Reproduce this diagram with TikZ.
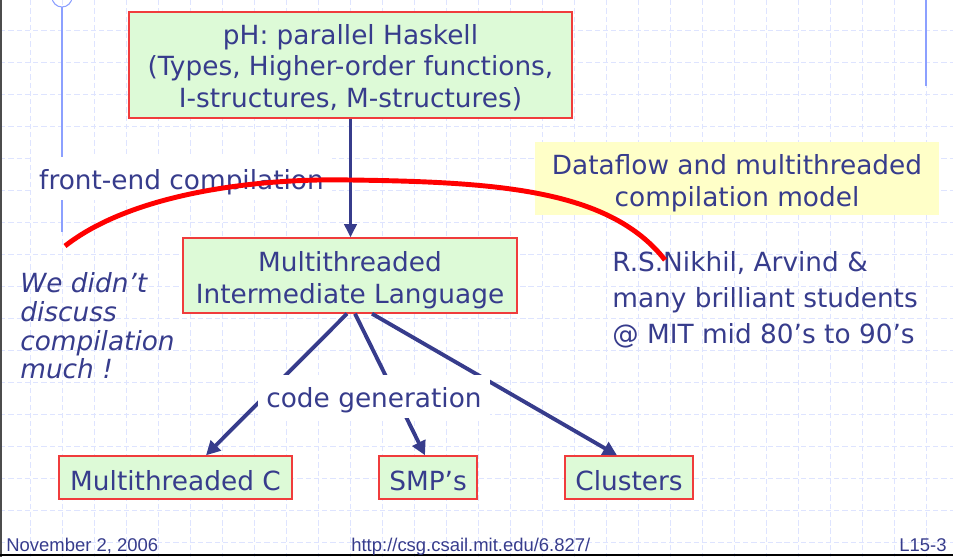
\documentclass[tikz,border=0pt]{standalone}
\usepackage{fontspec}
\setmainfont{DejaVu Sans}
\newfontfamily\footfont{Liberation Sans}
\usetikzlibrary{arrows.meta, calc}
\definecolor{ink}{RGB}{55,60,140}
\definecolor{boxfill}{RGB}{221,250,215}
\definecolor{boxline}{RGB}{240,60,60}
\definecolor{notefill}{RGB}{255,255,200}
\definecolor{gridc}{RGB}{222,228,255}
\definecolor{railc}{RGB}{140,160,255}
\newcommand{\boxstrut}[1][15.5pt]{\rule{0pt}{#1}}
\tikzset{%
    grd/.style={gridc, line width=0.5pt, dash pattern=on 3pt off 1.7pt},
    rail/.style={railc, line width=0.6pt},
    box/.style={rectangle, draw=boxline, line width=0.8pt, fill=boxfill, text=ink, align=center, inner sep=0pt, font=\fontsize{15}{18.1}\selectfont},
    note/.style={rectangle, fill=notefill, text=ink, align=center, inner sep=0pt, font=\fontsize{15}{18.1}\selectfont},
    txt/.style={text=ink, align=left, inner sep=0pt, anchor=north west},
    lbl/.style={rectangle, fill=white, text=ink, inner xsep=4.5pt, inner ysep=0pt, minimum height=0.86cm, text height=13pt, text depth=0pt, font=\fontsize{15}{18.1}\selectfont},
    foot/.style={text=ink, inner sep=0pt, font=\footfont\fontsize{10.5}{12}\selectfont},
    pria/.style={ink, line width=1.7pt, -{Triangle[length=7.5pt, width=7pt]}},
    gena/.style={ink, line width=2.2pt, -{Triangle[length=8pt, width=8pt]}},
    hl/.style={red, line width=2.8pt},
}
\begin{document}
\begin{tikzpicture}[x=0.02cm, y=-0.02cm]
    \useasboundingbox (0,0) rectangle (953,557);
    \foreach \gx in {30,62,...,926} \draw[grd] (\gx,0) -- (\gx,557);
    \foreach \gy in {30,62,...,542} \draw[grd] (0,\gy) -- (953,\gy);
    \draw[rail] (62,7) -- (62,232);
    \draw[rail] (62,-3) circle (10);
    \draw[rail, line width=1.2pt] (926,0) -- (926,86);
    \draw[black!70, line width=1.2pt] (0.5,0) -- (0.5,557);
    \draw[black, line width=1.7pt] (0,555) -- (953,555);

    \node[box, minimum width=8.86cm, minimum height=2.12cm] (ph) at (350.5,65) {\boxstrut[14.3pt]pH: parallel Haskell\\(Types, Higher-order functions,\\I-structures, M-structures)};
    \node[box, minimum width=6.68cm, minimum height=1.5cm] (mil) at (350,275.5) {\boxstrut[17pt]Multithreaded\\Intermediate Language};
    \node[box, minimum width=4.66cm, minimum height=0.86cm] (mtc) at (175.5,477.5) {\boxstrut Multithreaded C};
    \node[box, minimum width=1.96cm, minimum height=0.86cm] (smp) at (428,477.5) {\boxstrut SMP’s};
    \node[box, minimum width=2.56cm, minimum height=0.86cm] (clu) at (629,477.5) {\boxstrut Clusters};
    \node[note, minimum width=8.08cm, minimum height=1.46cm] (model) at (737,178.5) {\boxstrut[17pt]Dataflow and multithreaded\\compilation model};
    \node[txt, font=\itshape\fontsize{15}{16.4}\selectfont] (nodisc) at (20,272) {We didn’t\\discuss\\compilation\\much !};
    \node[txt, font=\fontsize{15}{20.6}\selectfont] (people) at (612,251) {R.S.Nikhil, Arvind \&\\many brilliant students\\@ MIT mid 80’s to 90’s};

    \draw[pria] (ph.south) -- (ph.south |- mil.north);
    \draw[gena] ($(mil.south)+(-3,0)$) -- ($(mtc.north)+(30.5,0)$);
    \draw[gena] ($(mil.south)+(5,0)$) -- ($(smp.north)+(-3,0)$);
    \draw[gena] ($(mil.south)+(22,0)$) -- ($(clu.north)+(-12,0)$);

    \node[lbl] (fe) at (181.5,178.5) {front-end compilation};
    \node[lbl] (cg) at (374,396.5) {code generation};

    \coordinate (hlA) at (65,246);
    \coordinate (hlB) at (665,260);
    \draw[hl] (hlA) .. controls (130,195) and (250,178) .. (350,180)
        .. controls (500,182) and (610,190) .. (hlB);

    \node[foot, anchor=base west] (date) at (6,551) {November 2, 2006};
    \node[foot, anchor=base west] (url) at (351,551) {http://csg.csail.mit.edu/6.827/};
    \node[foot, anchor=base east] (slide) at (947,551) {L15-3};
\end{tikzpicture}
\end{document}
